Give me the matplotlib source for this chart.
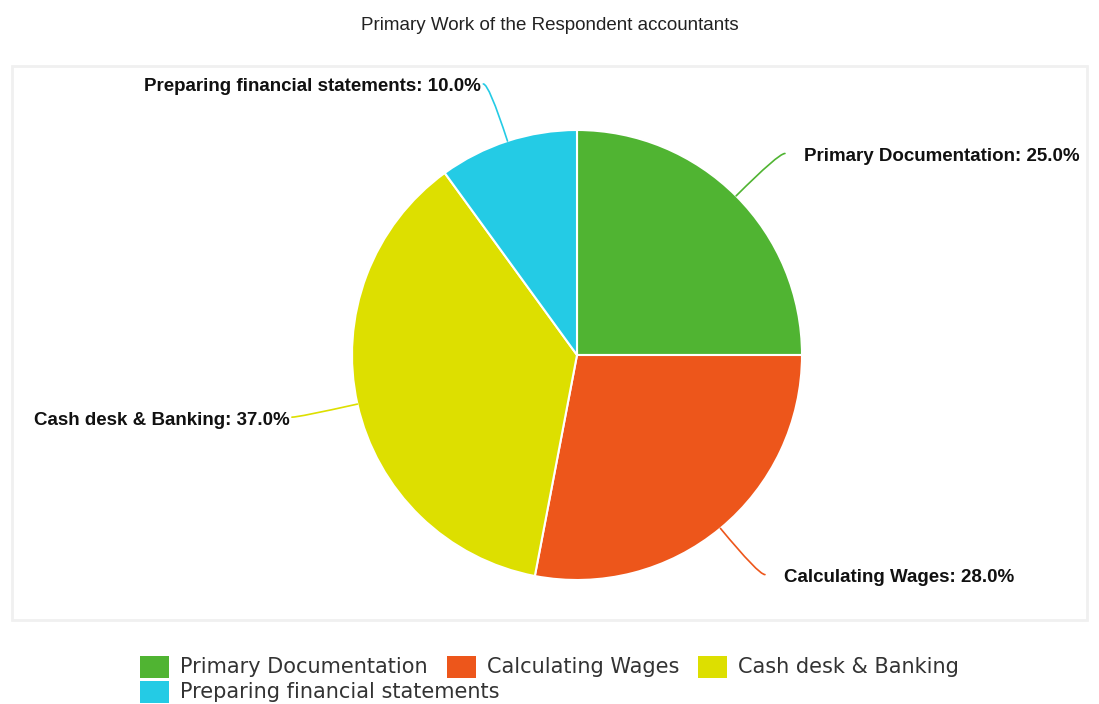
import matplotlib
matplotlib.use("Agg")
import matplotlib.pyplot as plt
import numpy as np
from matplotlib.patches import Rectangle

title = "Primary Work of the Respondent accountants"
categories = ["Primary Documentation", "Calculating Wages",
              "Cash desk & Banking", "Preparing financial statements"]
shares = [25.0, 28.0, 37.0, 10.0]
colors = ["#50B432", "#ED561B", "#DDDF00", "#24CBE5"]

W, H = 1099, 704
fig = plt.figure(figsize=(W / 100, H / 100), dpi=100)
fig.patch.set_facecolor("white")
ax = fig.add_axes([0, 0, 1, 1])

cx, cy, r = 577, H - 355, 225
wedges, _ = ax.pie(shares, colors=colors, startangle=90, counterclock=False,
                   center=(cx, cy), radius=r, frame=False,
                   wedgeprops=dict(edgecolor="white", linewidth=1.5))
ax.set_xlim(0, W)
ax.set_ylim(0, H)
ax.set_aspect("equal")
ax.set_axis_off()

# plot area border
ax.add_patch(Rectangle((12, H - 620), 1075, 554, fill=False,
                       edgecolor="#f0f0f0", linewidth=2, zorder=0))

# title
fig.text(0.5, 1 - 25 / H, title, ha="center", va="center", fontsize=13.5,
         family="Liberation Sans", color="#222222")

# data labels with curved connectors
lab_font = dict(family="Liberation Sans", fontweight="bold", fontsize=13.5, color="#111111")
for w, cat, val, col in zip(wedges, categories, shares, colors):
    th = np.deg2rad((w.theta1 + w.theta2) / 2)
    c, s = np.cos(th), np.sin(th)
    sign = 1 if c >= 0 else -1
    edge = (cx + r * c, cy + r * s)
    end = (cx + (r + 62) * c + sign * 5, cy + (r + 60) * s)
    ax.annotate("", xy=edge, xytext=end,
                arrowprops=dict(arrowstyle="-", color=col, lw=1.2,
                                shrinkA=0, shrinkB=0,
                                connectionstyle=f"angle3,angleA=0,angleB={np.rad2deg(th):.2f}"))
    gap = 19 if sign > 0 else 2
    ax.text(end[0] + sign * gap, end[1] - 3, f"{cat}: {val:.1f}%",
            ha="left" if sign > 0 else "right", va="center", **lab_font)

# legend (manual flow layout, 3 items per row)
fig.canvas.draw()
renderer = fig.canvas.get_renderer()
leg_font = dict(family="DejaVu Sans", fontsize=15, color="#333333")
sq_w, sq_h, gap_t, gap_i = 29, 22, 11, 19
widths = []
for cat in categories:
    t = ax.text(0, 0, cat, **leg_font)
    widths.append(t.get_window_extent(renderer).width)
    t.remove()
per_row = 3
row1 = sum(sq_w + gap_t + widths[i] for i in range(per_row)) + gap_i * (per_row - 1)
x0 = W / 2 - row1 / 2
row_y = [H - 667, H - 692]
x = x0
for i, (cat, col) in enumerate(zip(categories, colors)):
    row = i // per_row
    if i % per_row == 0:
        x = x0
    y = row_y[row]
    ax.add_patch(Rectangle((x, y - sq_h / 2), sq_w, sq_h, facecolor=col,
                           edgecolor="none", clip_on=False))
    ax.text(x + sq_w + gap_t, y, cat, ha="left", va="center", **leg_font)
    x += sq_w + gap_t + widths[i] + gap_i

fig.savefig("out.png", dpi=100, facecolor="white")
